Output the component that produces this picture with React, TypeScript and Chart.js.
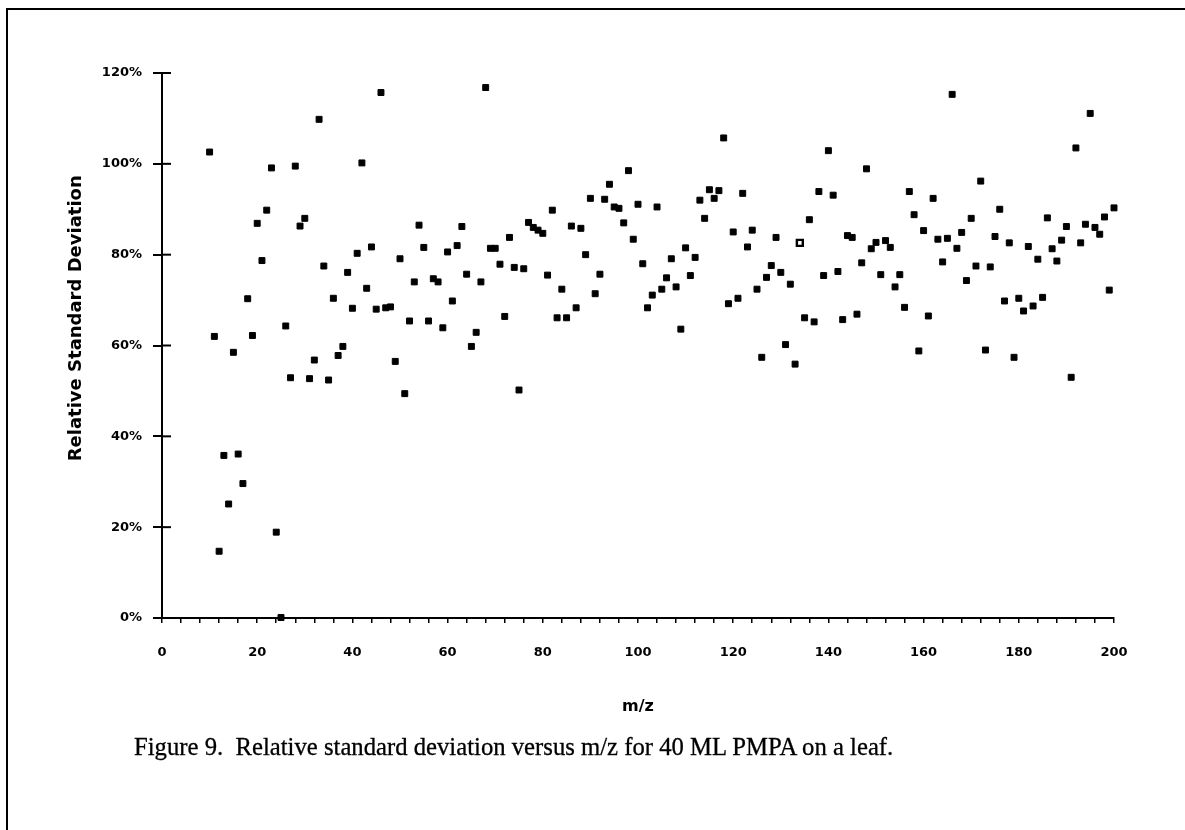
import React, { useEffect, useRef } from "react";
import { Chart, registerables } from "chart.js";

Chart.register(...registerables);

// m/z categories (x values)
const mzValues: number[] = [
  10, 11, 12, 13, 14, 15, 16, 17, 18, 19,
  20, 21, 22, 23, 24, 25, 26, 27, 28, 29,
  30, 31, 32, 33, 34, 35, 36, 37, 38, 39,
  40, 41, 42, 43, 44, 45, 46, 47, 48, 49,
  50, 51, 52, 53, 54, 55, 56, 57, 58, 59,
  60, 61, 62, 63, 64, 65, 66, 67, 68, 69,
  70, 71, 72, 73, 74, 75, 76, 77, 78, 79,
  80, 81, 82, 83, 84, 85, 86, 87, 88, 89,
  90, 91, 92, 93, 94, 95, 96, 97, 98, 99,
  100, 101, 102, 103, 104, 105, 106, 107, 108, 109,
  110, 111, 112, 113, 114, 115, 116, 117, 118, 119,
  120, 121, 122, 123, 124, 125, 126, 127, 128, 129,
  130, 131, 132, 133, 134, 135, 136, 137, 138, 139,
  140, 141, 142, 143, 144, 145, 146, 147, 148, 149,
  150, 151, 152, 153, 154, 155, 156, 157, 158, 159,
  160, 161, 162, 163, 164, 165, 166, 167, 168, 169,
  170, 171, 172, 173, 174, 175, 176, 177, 178, 179,
  180, 181, 182, 183, 184, 185, 186, 187, 188, 189,
  190, 191, 192, 193, 194, 195, 196, 197, 198, 199,
  200,
];

// Relative standard deviation (%) for each m/z
const rsdValues: number[] = [
  102.6, 62.0, 14.7, 35.8, 25.1, 58.5, 36.1, 29.6, 70.3, 62.2,
  86.9, 78.7, 89.8, 99.1, 18.9, 0.1, 64.3, 52.9, 99.5, 86.3,
  88.0, 52.7, 56.8, 109.8, 77.5, 52.4, 70.4, 57.8, 59.8, 76.1,
  68.2, 80.3, 100.2, 72.6, 81.7, 68.0, 115.7, 68.3, 68.5, 56.5,
  79.1, 49.4, 65.4, 74.0, 86.5, 81.6, 65.4, 74.7, 74.0, 63.9,
  80.6, 69.8, 82.0, 86.2, 75.7, 59.8, 62.9, 74.0, 116.8, 81.4,
  81.4, 77.9, 66.4, 83.8, 77.2, 50.2, 76.9, 87.1, 86.0, 85.4,
  84.7, 75.5, 89.8, 66.1, 72.4, 66.1, 86.3, 68.3, 85.8, 80.0,
  92.4, 71.4, 75.7, 92.2, 95.5, 90.5, 90.2, 87.0, 98.5, 83.4,
  91.1, 78.0, 68.3, 71.1, 90.5, 72.4, 74.9, 79.1, 72.9, 63.6,
  81.5, 75.4, 79.4, 92.0, 88.0, 94.3, 92.4, 94.1, 105.7, 69.2,
  85.0, 70.4, 93.5, 81.7, 85.4, 72.4, 57.4, 75.0, 77.6, 83.8,
  76.1, 60.2, 73.5, 55.9, 82.6, 66.1, 87.7, 65.2, 93.9, 75.4,
  102.9, 93.1, 76.3, 65.7, 84.2, 83.8, 66.9, 78.2, 98.9, 81.3,
  82.7, 75.6, 83.1, 81.6, 72.9, 75.6, 68.4, 93.9, 88.8, 58.8,
  85.3, 66.5, 92.4, 83.4, 78.4, 83.6, 115.3, 81.4, 84.9, 74.3,
  88.0, 77.5, 96.2, 59.0, 77.3, 84.0, 90.0, 69.8, 82.6, 57.4,
  70.4, 67.6, 81.8, 68.7, 79.0, 70.6, 88.1, 81.3, 78.6, 83.2,
  86.2, 53.0, 103.5, 82.6, 86.7, 111.1, 86.0, 84.5, 88.3, 72.2,
  90.3,
];

// m/z values drawn with an open marker
const hollowMz: number[] = [134];

const yTickValues: number[] = [0, 20, 40, 60, 80, 100, 120];
const xLabelValues: number[] = [0, 20, 40, 60, 80, 100, 120, 140, 160, 180, 200];

const xTitle = "m/z";
const yTitle = "Relative Standard Deviation";
const caption = "Figure 9.  Relative standard deviation versus m/z for 40 ML PMPA on a leaf.";

const AXIS_FONT = "'DejaVu Sans', sans-serif";

// tick marks that cross the y axis into the plot, plus the y-axis title
const yAxisExtras = {
  id: "yAxisExtras",
  afterDraw(chart: any) {
    const yScale = chart.scales.y;
    const ctx = chart.ctx;
    const x0 = chart.chartArea.left;
    ctx.save();
    ctx.strokeStyle = "#000";
    ctx.lineWidth = 2;
    yTickValues.forEach((v) => {
      const py = yScale.getPixelForValue(v);
      ctx.beginPath();
      ctx.moveTo(x0, py);
      ctx.lineTo(x0 + 9, py);
      ctx.stroke();
    });
    // y title, centred a little above the axis middle as in the figure
    const cy = yScale.getPixelForValue(66);
    ctx.translate(76, cy);
    ctx.rotate(-Math.PI / 2);
    ctx.fillStyle = "#000";
    ctx.font = `bold 18px ${AXIS_FONT}`;
    ctx.textAlign = "center";
    ctx.textBaseline = "middle";
    ctx.fillText(yTitle, 0, 0);
    ctx.restore();
  },
};

export default function App() {
  const canvasRef = useRef<HTMLCanvasElement | null>(null);

  useEffect(() => {
    if (!canvasRef.current) return;
    const points = mzValues.map((m, i) => ({ x: m, y: rsdValues[i] }));
    const chart = new Chart(canvasRef.current, {
      type: "scatter",
      data: {
        datasets: [
          {
            data: points,
            pointStyle: "rect",
            pointRadius: 4.2,
            pointBorderWidth: (ctx: any) =>
              ctx.raw && hollowMz.includes(ctx.raw.x) ? 2.4 : 1,
            pointBackgroundColor: (ctx: any) =>
              ctx.raw && hollowMz.includes(ctx.raw.x) ? "#fff" : "#000",
            pointBorderColor: "#000",
            showLine: false,
            clip: false as any,
          },
        ],
      },
      options: {
        animation: false,
        responsive: false,
        devicePixelRatio: 1,
        layout: { padding: { left: 0, top: 73, right: 71, bottom: 112 } },
        plugins: {
          legend: { display: false },
          tooltip: { enabled: false },
        },
        scales: {
          x: {
            type: "linear",
            min: 0,
            max: 200,
            afterFit: (s: any) => {
              s.height = 100;
            },
            border: { display: true, color: "#000", width: 2 },
            grid: {
              display: true,
              drawOnChartArea: false,
              drawTicks: true,
              tickLength: 5,
              color: "#000",
              lineWidth: 1.5,
            },
            ticks: {
              stepSize: 4,
              autoSkip: false,
              maxRotation: 0,
              padding: 22,
              color: "#000",
              font: { family: AXIS_FONT, weight: "bold", size: 13 },
              callback: (v: any) => (xLabelValues.includes(Number(v)) ? String(v) : ""),
            },
            title: {
              display: true,
              text: xTitle,
              color: "#000",
              font: { family: AXIS_FONT, weight: "bold", size: 16 },
              padding: { top: 0, bottom: 2 },
            },
          },
          y: {
            type: "linear",
            min: 0,
            max: 120,
            afterFit: (s: any) => {
              s.width = 162;
            },
            border: { display: true, color: "#000", width: 2 },
            grid: {
              display: true,
              drawOnChartArea: false,
              drawTicks: true,
              tickLength: 9,
              color: "#000",
              lineWidth: 2,
            },
            ticks: {
              stepSize: 20,
              padding: 11,
              color: "#000",
              font: { family: AXIS_FONT, weight: "bold", size: 13 },
              callback: (v: any) => (yTickValues.includes(Number(v)) ? v + "%" : ""),
            },
            title: { display: false },
          },
        },
      },
      plugins: [yAxisExtras],
    } as any);
    return () => chart.destroy();
  }, []);

  return (
    <div
      style={{
        position: "absolute",
        left: 0,
        top: 0,
        width: 1185,
        height: 830,
        overflow: "hidden",
        background: "#fff",
      }}
    >
      <div
        style={{
          position: "absolute",
          left: 6,
          top: 8,
          width: 1179,
          height: 822,
          borderTop: "2px solid #000",
          borderLeft: "2px solid #000",
          boxSizing: "border-box",
        }}
      />
      <canvas
        ref={canvasRef}
        width={1185}
        height={830}
        style={{ position: "absolute", left: 0, top: 0, width: 1185, height: 830 }}
      />
      <div
        style={{
          position: "absolute",
          left: 134,
          top: 733,
          whiteSpace: "pre",
          fontFamily: "'Liberation Serif', 'Times New Roman', serif",
          fontSize: 24.7,
          color: "#000",
          lineHeight: "28px",
          WebkitTextStroke: "0.3px #000",
        }}
      >
        {caption}
      </div>
    </div>
  );
}
